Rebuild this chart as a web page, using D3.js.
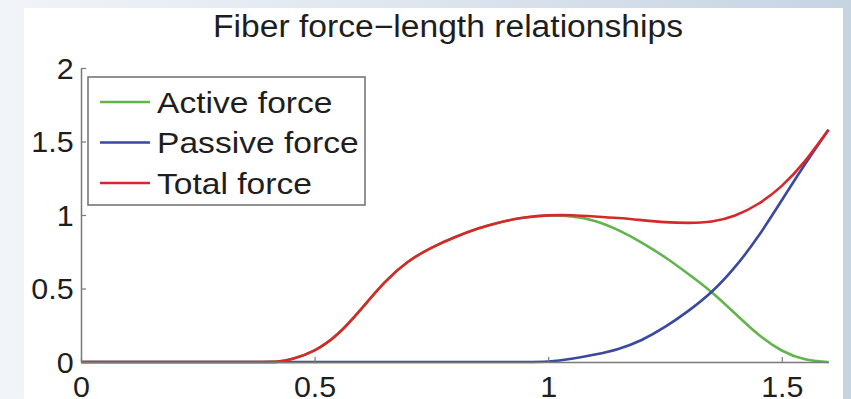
<!DOCTYPE html>
<html>
<head>
<meta charset="utf-8">
<script src="https://cdn.jsdelivr.net/npm/d3@7"></script>
<style>
  body { margin: 0; }
  svg { display: block; }
  text { font-family: "Liberation Sans", Arial, sans-serif; fill: #1e1e1e; }
</style>
</head>
<body>
<script>
// fiber length (normalised) and the three force curves
const lengths = [0, 0.1, 0.2, 0.3, 0.4, 0.42, 0.45, 0.5, 0.55, 0.6, 0.65, 0.7, 0.75, 0.8, 0.85, 0.9, 0.95,
                 1.0, 1.05, 1.1, 1.15, 1.2, 1.25, 1.3, 1.35, 1.4, 1.45, 1.5, 1.55, 1.6];
const activeForce = [0, 0, 0, 0, 0, 0, 0.015, 0.07, 0.18, 0.36, 0.55, 0.69, 0.78, 0.85, 0.91, 0.955, 0.985,
                     1.0, 0.995, 0.965, 0.9, 0.815, 0.715, 0.6, 0.48, 0.33, 0.18, 0.07, 0.01, 0];
const passiveForce = [0, 0, 0, 0, 0, 0, 0, 0, 0, 0, 0, 0, 0, 0, 0, 0, 0,
                      0, 0.02, 0.05, 0.085, 0.145, 0.235, 0.345, 0.47, 0.64, 0.85, 1.1, 1.35, 1.58];
const totalForce = [0, 0, 0, 0, 0, 0, 0.015, 0.07, 0.18, 0.36, 0.55, 0.69, 0.78, 0.85, 0.91, 0.955, 0.985,
                    1.0, 1.0, 0.99, 0.98, 0.965, 0.95, 0.945, 0.95, 0.99, 1.07, 1.19, 1.36, 1.58];

const seriesNames = ["Active force", "Passive force", "Total force"];
const seriesColors = ["#62b44c", "#3a489e", "#d8262b"];
const xTicks = [0, 0.5, 1, 1.5];
const yTicks = [0, 0.5, 1, 1.5, 2];

const width = 851, height = 399;

const svg = d3.select("body").append("svg")
  .attr("width", width)
  .attr("height", height);

// slide-like backdrop
const grad = svg.append("defs").append("linearGradient")
  .attr("id", "bg").attr("x1", 0).attr("x2", 1).attr("y1", 0).attr("y2", 0);
grad.append("stop").attr("offset", 0).attr("stop-color", "#f1f4f8");
grad.append("stop").attr("offset", 0.5).attr("stop-color", "#dde5ee");
grad.append("stop").attr("offset", 1).attr("stop-color", "#c6d4e2");
svg.append("rect").attr("width", width).attr("height", height).attr("fill", "url(#bg)");
svg.append("rect").attr("x", 24).attr("y", 8).attr("width", 819).attr("height", height - 8).attr("fill", "#fff");

const xscale = d3.scaleLinear().domain([0, 1.6]).range([81, 828.5]);
const yscale = d3.scaleLinear().domain([0, 2]).range([362, 68]);

const xaxis = d3.axisBottom(xscale)
  .tickValues(xTicks)
  .tickFormat(d3.format("~g"))
  .tickSize(-5).tickSizeOuter(0).tickPadding(14);

const yaxis = d3.axisLeft(yscale)
  .tickValues(yTicks)
  .tickFormat(d3.format("~g"))
  .tickSize(-5).tickSizeOuter(0).tickPadding(7);

const series = [activeForce, passiveForce, totalForce];
const line = d3.line()
  .x((d, i) => xscale(lengths[i]))
  .y(d => yscale(d))
  .curve(d3.curveBasis);

svg.selectAll("path.force")
  .data(series)
  .enter()
  .append("path")
  .attr("class", "force")
  .attr("d", d => line(d))
  .attr("fill", "none")
  .attr("stroke", (d, i) => seriesColors[i])
  .attr("stroke-width", 2.6)
  .attr("stroke-linejoin", "round");

const gx = svg.append("g")
  .attr("transform", `translate(0, ${yscale(0)})`)
  .call(xaxis);
const gy = svg.append("g")
  .attr("transform", `translate(${xscale(0)}, 0)`)
  .call(yaxis);

[gx, gy].forEach(g => {
  g.select(".domain").attr("stroke", "#7a7a7a").attr("stroke-width", 1.5);
  g.selectAll(".tick line").attr("stroke", "#7a7a7a").attr("stroke-width", 1.2);
  g.selectAll(".tick text")
    .attr("font-size", 29)
    .attr("font-family", "Liberation Sans, Arial, sans-serif")
    .attr("fill", "#1e1e1e")
    .attr("transform", "scale(1.05,1)");
});
gy.selectAll(".tick text").attr("dy", "0.36em");

// title
svg.append("text")
  .attr("x", 448).attr("y", 37)
  .attr("text-anchor", "middle")
  .attr("font-size", 31)
  .attr("textLength", 470)
  .attr("lengthAdjust", "spacingAndGlyphs")
  .text("Fiber force\u2212length relationships");

// legend
const legend = svg.append("g");
legend.append("rect")
  .attr("x", 88).attr("y", 77).attr("width", 277).attr("height", 128)
  .attr("fill", "#fff").attr("stroke", "#6e6e6e").attr("stroke-width", 1.5);

const rows = legend.selectAll("g.row")
  .data(seriesNames)
  .enter()
  .append("g")
  .attr("class", "row")
  .attr("transform", (d, i) => `translate(100, ${102 + i * 40.5})`);

rows.append("line")
  .attr("x1", 0).attr("x2", 50)
  .attr("stroke", (d, i) => seriesColors[i])
  .attr("stroke-width", 2.6);

rows.append("text")
  .attr("x", 0).attr("y", 0)
  .attr("dy", "0.36em")
  .attr("font-size", 30)
  .attr("transform", "translate(57,0) scale(1.12,1)")
  .text(d => d);
</script>
</body>
</html>
